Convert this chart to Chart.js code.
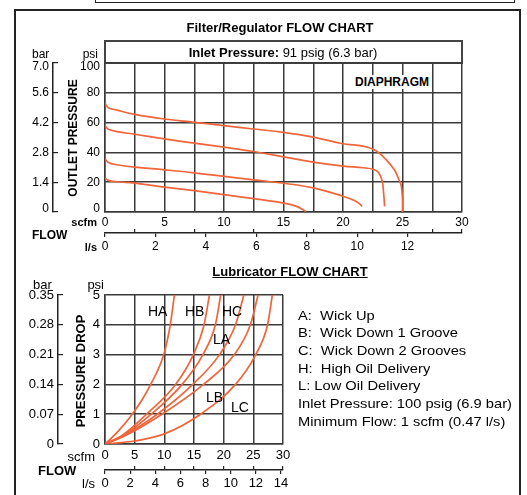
<!DOCTYPE html>
<html><head><meta charset="utf-8">
<script src="https://cdn.jsdelivr.net/npm/chart.js@4/dist/chart.umd.min.js"></script>
<style>
html,body{margin:0;padding:0;background:#fff;}
#page{position:relative;width:527px;height:495px;overflow:hidden;font-family:'Liberation Sans',Arial,Helvetica,sans-serif;color:#000;}
canvas{position:absolute;left:0;top:0;}
.t{position:absolute;white-space:nowrap;line-height:1;z-index:5;}
.b{font-weight:bold;}
.c{transform:translateX(-50%);}
.r{transform:translate(-50%,-50%) rotate(-90deg);}
.lg{transform:scaleX(1.13);transform-origin:left center;font-size:13px;left:298px;}
</style></head><body>
<div id="page">
 <div style="position:absolute;left:95px;top:-10px;width:418px;height:11px;border:1.5px solid #222;"></div>
 <div style="position:absolute;left:14px;top:9px;width:503px;height:520px;border:2px solid #222;"></div>
 <div style="position:absolute;left:104px;top:40px;width:359px;height:24px;border:2px solid #444;box-sizing:border-box;"></div>
 <canvas id="c1" width="527" height="495"></canvas>
 <canvas id="c2" width="527" height="495"></canvas>

 <div class="t b c" style="left:280px;top:20.5px;font-size:13px;">Filter/Regulator FLOW CHART</div>
 <div class="t c" style="left:283px;top:45.5px;font-size:13px;"><b>Inlet Pressure:</b> 91 psig (6.3 bar)</div>
 <div class="t" style="left:32px;top:48px;font-size:12px;">bar</div>
 <div class="t" style="right:429px;top:48px;font-size:12px;">psi</div>
 <div class="t b r" style="left:73px;top:138px;font-size:12px;">OUTLET PRESSURE</div>
 <div class="t b" style="left:353px;top:75px;font-size:12px;background:#fff;padding:1px 2px;">DIAPHRAGM</div>
 <div class="t b" style="right:430px;top:216.5px;font-size:11px;">scfm</div>
 <div class="t b" style="left:32px;top:229px;font-size:12px;">FLOW</div>
 <div class="t b" style="right:430px;top:241.5px;font-size:11px;">l/s</div>

 <div class="t b c" style="left:290px;top:265px;font-size:13px;text-decoration:underline;">Lubricator FLOW CHART</div>
 <div class="t" style="left:33px;top:278px;font-size:13px;">bar</div>
 <div class="t" style="right:423px;top:278px;font-size:13px;">psi</div>
 <div class="t b r" style="left:80px;top:371px;font-size:13px;">PRESSURE DROP</div>
 <div class="t" style="right:432px;top:450px;font-size:13px;">scfm</div>
 <div class="t b" style="left:38px;top:463.5px;font-size:13px;">FLOW</div>
 <div class="t" style="right:432px;top:476.5px;font-size:13px;">l/s</div>

 <div class="t" style="left:148px;top:304px;font-size:14px;">HA</div>
 <div class="t" style="left:185px;top:304px;font-size:14px;">HB</div>
 <div class="t" style="left:222px;top:304px;font-size:14px;">HC</div>
 <div class="t" style="left:213px;top:332px;font-size:14px;">LA</div>
 <div class="t" style="left:206px;top:389.5px;font-size:14px;">LB</div>
 <div class="t" style="left:231px;top:399.5px;font-size:14px;">LC</div>

 <div class="t lg" style="top:308.6px;">A:&nbsp; Wick Up</div>
 <div class="t lg" style="top:326.3px;">B:&nbsp; Wick Down 1 Groove</div>
 <div class="t lg" style="top:344px;">C:&nbsp; Wick Down 2 Grooves</div>
 <div class="t lg" style="top:361.6px;">H:&nbsp; High Oil Delivery</div>
 <div class="t lg" style="top:379.3px;">L:&nbsp;Low Oil Delivery</div>
 <div class="t lg" style="top:397px;">Inlet Pressure: 100 psig (6.9 bar)</div>
 <div class="t lg" style="top:414.6px;">Minimum Flow: 1 scfm (0.47 l/s)</div>
</div>
<script>
// ---------- Filter/Regulator data (x: scfm, y: outlet psi) ----------
const FR_C1_SCFM = [0, 0.28, 1.0, 2.5, 5, 7.5, 10, 12.5, 15, 17.5, 20, 21.1, 22, 22.8, 23.6, 24.3, 24.7, 24.9, 25.0, 25.0];
const FR_C1_PSI  = [72.9, 70, 68.4, 65.5, 62.4, 60.2, 58.0, 55.7, 53.5, 50.3, 45.8, 44.9, 43.6, 40.9, 35.3, 28.5, 21.8, 17.3, 8, 0];
const FR_C2_SCFM = [0, 0.28, 1.0, 2.5, 5, 7.5, 10, 12.5, 15, 17.5, 20, 21.7, 22.6, 23.0, 23.3, 23.4, 23.5];
const FR_C2_PSI  = [58, 55.5, 54, 52.2, 49.1, 46.2, 43.5, 40.6, 37, 33.5, 30.8, 29.7, 28.5, 26.3, 20.7, 13.9, 3.8];
const FR_C3_SCFM = [0, 0.28, 1.0, 2.5, 5, 7.5, 10, 12.5, 15, 17.5, 20, 21, 21.4, 21.6];
const FR_C3_PSI  = [35.7, 33.2, 31.7, 30.1, 28.3, 26.3, 23.9, 21.6, 19.3, 16.2, 10.6, 7.6, 5.4, 3.8];
const FR_C4_SCFM = [0, 0.28, 1.0, 2.5, 5, 7.5, 10, 12.5, 15, 16.1, 16.9];
const FR_C4_PSI  = [22.7, 21.2, 20.3, 19.4, 16.7, 14.3, 11.6, 9.0, 6.0, 3.8, 0.4];
const FR_SCFM_GRID = [0, 2.5, 5, 7.5, 10, 12.5, 15, 17.5, 20, 22.5, 25, 27.5, 30];
const FR_SCFM_LABELS = [0, 5, 10, 15, 20, 25, 30];
const FR_FLOW_MINOR = [2.5, 7.5, 12.5, 17.5, 22.5, 27.5, 30];
const FR_LS_TICKS = [0, 2, 4, 6, 8, 10, 12];
const FR_PSI_TICKS = [0, 20, 40, 60, 80, 100];
const FR_PSI_LABELS = ['0', '20', '40', '60', '80', '100'];
const FR_BAR_TICKS = [0, 1.4, 2.8, 4.2, 5.6, 7.0];
const FR_BAR_LABELS = ['0', '1.4', '2.8', '4.2', '5.6', '7.0'];

// ---------- Lubricator data (x: scfm, y: pressure drop psi) ----------
const LU_HA_SCFM = [0, 2, 4.6, 6.3, 7.7, 9.9, 11.0, 11.7];
const LU_HA_PSI  = [0, 0.38, 1, 1.5, 2, 3, 4, 5];
const LU_HB_SCFM = [0, 3, 7.0, 11.9, 14.9, 16.7, 17.6];
const LU_HB_PSI  = [0, 0.3, 1, 2, 3, 4, 5];
const LU_HC_SCFM = [0, 3, 7.8, 13.0, 16.5, 18.6, 19.5];
const LU_HC_PSI  = [0, 0.28, 1, 2, 3, 4, 5];
const LU_LA_SCFM = [0, 3, 8.8, 14.8, 19.3, 22.0, 23.4];
const LU_LA_PSI  = [0, 0.26, 1, 2, 3, 4, 5];
const LU_LB_SCFM = [0, 3, 9.6, 16.6, 21.8, 24.5, 25.8];
const LU_LB_PSI  = [0, 0.24, 1, 2, 3, 4, 5];
const LU_LC_SCFM = [0, 5, 10, 16.1, 22, 25.4, 27.4, 28.2];
const LU_LC_PSI  = [0, 0.1, 0.34, 1, 2, 3, 4, 5];
const LU_SCFM_TICKS = [0, 5, 10, 15, 20, 25, 30];
const LU_FLOW_MINOR = [5, 10, 15, 20, 25, 30];
const LU_LS_TICKS = [0, 2, 4, 6, 8, 10, 12, 14];
const LU_PSI_TICKS = [0, 1, 2, 3, 4, 5];
const LU_PSI_LABELS = ['0', '1', '2', '3', '4', '5'];
const LU_BAR_TICKS = [0, 0.07, 0.14, 0.21, 0.28, 0.35];
const LU_BAR_LABELS = ['0', '0.07', '0.14', '0.21', '0.28', '0.35'];

const SCFM_PER_LS = 2.119;
const LINE = '#f0653a';
const GRID = '#3a3a3a';
const FONT = "'Liberation Sans', Arial, Helvetica, sans-serif";

function pts(xs, ys) { return xs.map((x, i) => ({x: x, y: ys[i]})); }
function fixed(arr) { return s => { s.ticks = arr.map(v => ({value: v})); }; }
function ds(xs, ys, label, mono) {
  return {label: label, data: pts(xs, ys), borderColor: LINE, borderWidth: 1.7, pointRadius: 0,
    fill: false, tension: mono ? 0 : 0.4, cubicInterpolationMode: mono ? 'monotone' : 'default'};
}
function endLabel(labels, inset) {
  return (v, i, t) => {
    const s = labels[i];
    if (!inset) return s;
    if (i === t.length - 1) return ['', s];
    if (i === 0) return [s, ''];
    return s;
  };
}

function makeChart(id, cfg) {
  const fs = cfg.fontSize;
  const yFont = {family: FONT, size: fs, lineHeight: cfg.inset ? 0.55 : 1.2};
  return new Chart(document.getElementById(id), {
    type: 'line',
    data: {datasets: cfg.datasets},
    options: {
      responsive: false, animation: false, events: [],
      layout: {padding: cfg.padding},
      plugins: {legend: {display: false}, tooltip: {enabled: false}},
      scales: {
        x: {type: 'linear', position: 'bottom', weight: 0, min: 0, max: 30,
          afterBuildTicks: fixed(cfg.xGrid),
          afterFit: s => { s.height = cfg.xH; },
          grid: {color: GRID, lineWidth: 1.5, drawTicks: false},
          border: {color: GRID, width: 1.5},
          ticks: {autoSkip: false, maxRotation: 0, padding: cfg.xPad, color: '#000', font: {family: FONT, size: fs},
            callback: v => cfg.xLabels.includes(v) ? String(v) : ''}},
        // upward scfm tick marks sitting on the l/s axis line
        xm: {type: 'linear', position: 'bottom', weight: 0.5, min: 0, max: 30,
          afterBuildTicks: fixed(cfg.flowMinor),
          afterFit: s => { s.height = 0; },
          grid: {drawOnChartArea: false, color: '#222', lineWidth: 1.2, tickLength: -4},
          border: {display: false},
          ticks: {display: false}},
        xl: {type: 'linear', position: 'bottom', weight: 1, min: 0, max: 30 / SCFM_PER_LS,
          afterBuildTicks: fixed(cfg.lsTicks),
          afterFit: s => { s.height = 20; },
          grid: {drawOnChartArea: false, color: '#222', lineWidth: 1.2, tickLength: 4},
          border: {color: '#222', width: 1.5},
          ticks: {autoSkip: false, maxRotation: 0, padding: 2, color: '#000', font: {family: FONT, size: fs},
            callback: v => String(v)}},
        y: {type: 'linear', position: 'left', weight: 0, min: 0, max: cfg.yMax,
          afterBuildTicks: fixed(cfg.yTicks),
          afterFit: s => { s.width = cfg.yW; },
          grid: {color: GRID, lineWidth: 1.5, drawTicks: false},
          border: {color: GRID, width: 1.5},
          ticks: {padding: 5, color: '#000', font: yFont, callback: endLabel(cfg.yLabels, cfg.inset)}},
        yb: {type: 'linear', position: 'left', weight: 1, min: 0, max: cfg.barMax,
          afterBuildTicks: fixed(cfg.barTicks),
          afterFit: s => { s.width = cfg.barW; },
          grid: {drawOnChartArea: false, color: '#222', lineWidth: 1.2, tickLength: -5},
          border: {color: '#222', width: 1.5},
          ticks: {padding: 9, color: '#000', font: yFont, callback: endLabel(cfg.barLabels, cfg.inset)}}
      }
    }
  });
}

makeChart('c1', {
  datasets: [
    ds(FR_C1_SCFM, FR_C1_PSI, 'curve 1', false),
    ds(FR_C2_SCFM, FR_C2_PSI, 'curve 2', false),
    ds(FR_C3_SCFM, FR_C3_PSI, 'curve 3', false),
    ds(FR_C4_SCFM, FR_C4_PSI, 'curve 4', false)
  ],
  fontSize: 12, inset: true,
  padding: {left: 20, top: 63, right: 65, bottom: 242},
  xGrid: FR_SCFM_GRID, xLabels: FR_SCFM_LABELS, xH: 21, xPad: 3, flowMinor: FR_FLOW_MINOR,
  lsTicks: FR_LS_TICKS,
  yMax: 100, yTicks: FR_PSI_TICKS, yLabels: FR_PSI_LABELS, yW: 52,
  barMax: 7, barTicks: FR_BAR_TICKS, barLabels: FR_BAR_LABELS, barW: 33
});

makeChart('c2', {
  datasets: [
    ds(LU_HA_SCFM, LU_HA_PSI, 'HA', true),
    ds(LU_HB_SCFM, LU_HB_PSI, 'HB', true),
    ds(LU_HC_SCFM, LU_HC_PSI, 'HC', true),
    ds(LU_LA_SCFM, LU_LA_PSI, 'LA', true),
    ds(LU_LB_SCFM, LU_LB_PSI, 'LB', true),
    ds(LU_LC_SCFM, LU_LC_PSI, 'LC', true)
  ],
  fontSize: 13, inset: false,
  padding: {left: 20, top: 295, right: 244, bottom: 5},
  xGrid: LU_SCFM_TICKS, xLabels: LU_SCFM_TICKS, xH: 26, xPad: 4, flowMinor: LU_FLOW_MINOR,
  lsTicks: LU_LS_TICKS,
  yMax: 5, yTicks: LU_PSI_TICKS, yLabels: LU_PSI_LABELS, yW: 47,
  barMax: 0.35, barTicks: LU_BAR_TICKS, barLabels: LU_BAR_LABELS, barW: 38
});
</script>
</body></html>
